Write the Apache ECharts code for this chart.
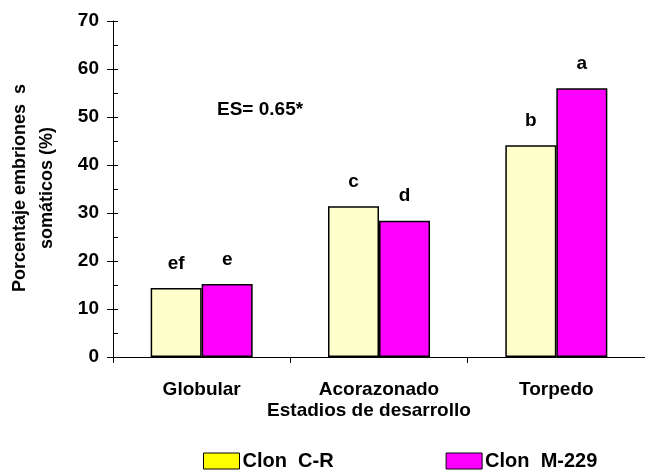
<!DOCTYPE html>
<html>
<head>
<meta charset="utf-8">
<script src="https://cdn.jsdelivr.net/npm/echarts@6/dist/echarts.min.js"></script>
<style>
  html, body { margin: 0; padding: 0; background: #fff; }
  #chart { width: 645px; height: 473px; }
</style>
</head>
<body>
<div id="chart"></div>
<script>
// Developmental stages (categories)
const stages = ['Globular', 'Acorazonado', 'Torpedo'];
// Percentage of somatic embryos per clone
const clonCR = [14.4, 31.4, 44.1];
const clonM229 = [15.2, 28.4, 56.0];
// Significance letters shown above each bar
const lettersCR = ['ef', 'c', 'b'];
const lettersM229 = ['e', 'd', 'a'];
// Y axis ticks
const yMin = 0, yMax = 70, yStep = 10;

const FONT = '"Liberation Sans", Arial, sans-serif';
const chart = echarts.init(document.getElementById('chart'));

function barLabel(letters) {
  return {
    show: true,
    position: 'top',
    distance: 15,
    color: '#000',
    fontFamily: FONT,
    fontWeight: 'bold',
    fontSize: 19,
    formatter: p => letters[p.dataIndex]
  };
}

chart.setOption({
  backgroundColor: '#fff',
  animation: false,
  grid: { left: 113, top: 21, width: 534, height: 336, containLabel: false },
  legend: {
    left: 203,
    top: 451,
    padding: 0,
    itemWidth: 36,
    itemHeight: 16,
    itemGap: 112,
    icon: 'rect',
    textStyle: { fontFamily: FONT, fontWeight: 'bold', fontSize: 20, color: '#000', padding: [0, 0, 0, -2] },
    data: [
      { name: 'Clon  C-R', itemStyle: { color: '#ffff00', borderColor: '#000', borderWidth: 1 } },
      { name: 'Clon  M-229', itemStyle: { color: '#ff00ff', borderColor: '#000', borderWidth: 1 } }
    ]
  },
  xAxis: {
    type: 'category',
    data: stages,
    boundaryGap: true,
    axisLine: { lineStyle: { color: '#000', width: 1 } },
    axisTick: { show: true, length: 6, lineStyle: { color: '#000' } },
    axisLabel: {
      margin: 23,
      color: '#000',
      fontFamily: FONT,
      fontWeight: 'bold',
      fontSize: 19
    }
  },
  yAxis: [
    {
      type: 'value',
      min: yMin,
      max: yMax,
      interval: yStep,
      axisLine: { show: true, lineStyle: { color: '#000', width: 1 } },
      axisTick: { show: true, length: 6, lineStyle: { color: '#000' } },
      splitLine: { show: false },
      axisLabel: {
        margin: 14,
        color: '#000',
        fontFamily: FONT,
        fontWeight: 'bold',
        fontSize: 19
      }
    },
    {
      // inner half-step ticks
      type: 'value',
      position: 'left',
      min: yMin,
      max: yMax,
      interval: yStep / 2,
      axisLine: { show: false },
      axisTick: { show: true, inside: true, length: 5, lineStyle: { color: '#000' } },
      axisLabel: { show: false },
      splitLine: { show: false }
    }
  ],
  series: [
    {
      name: 'Clon  C-R',
      type: 'bar',
      data: clonCR,
      barWidth: 51,
      barGap: '0%',
      itemStyle: { color: '#ffffcc', borderColor: '#000', borderWidth: 1.5 },
      label: barLabel(lettersCR)
    },
    {
      name: 'Clon  M-229',
      type: 'bar',
      data: clonM229,
      barWidth: 51,
      barGap: '0%',
      itemStyle: { color: '#ff00ff', borderColor: '#000', borderWidth: 1.5 },
      label: barLabel(lettersM229)
    }
  ],
  graphic: [
    {
      type: 'text',
      x: 34,
      y: 188,
      rotation: Math.PI / 2,
      style: {
        text: 'Porcentaje embriones  s\nsomáticos (%)',
        x: 0, y: 0,
        align: 'center',
        verticalAlign: 'middle',
        lineHeight: 27,
        fill: '#000',
        font: 'bold 18px ' + FONT
      }
    },
    {
      type: 'text',
      x: 369,
      y: 411,
      style: {
        text: 'Estadios de desarrollo',
        align: 'center',
        verticalAlign: 'middle',
        fill: '#000',
        font: 'bold 19px ' + FONT
      }
    },
    {
      type: 'text',
      x: 217,
      y: 110,
      style: {
        text: 'ES= 0.65*',
        align: 'left',
        verticalAlign: 'middle',
        fill: '#000',
        font: 'bold 19px ' + FONT
      }
    }
  ]
});
</script>
</body>
</html>
